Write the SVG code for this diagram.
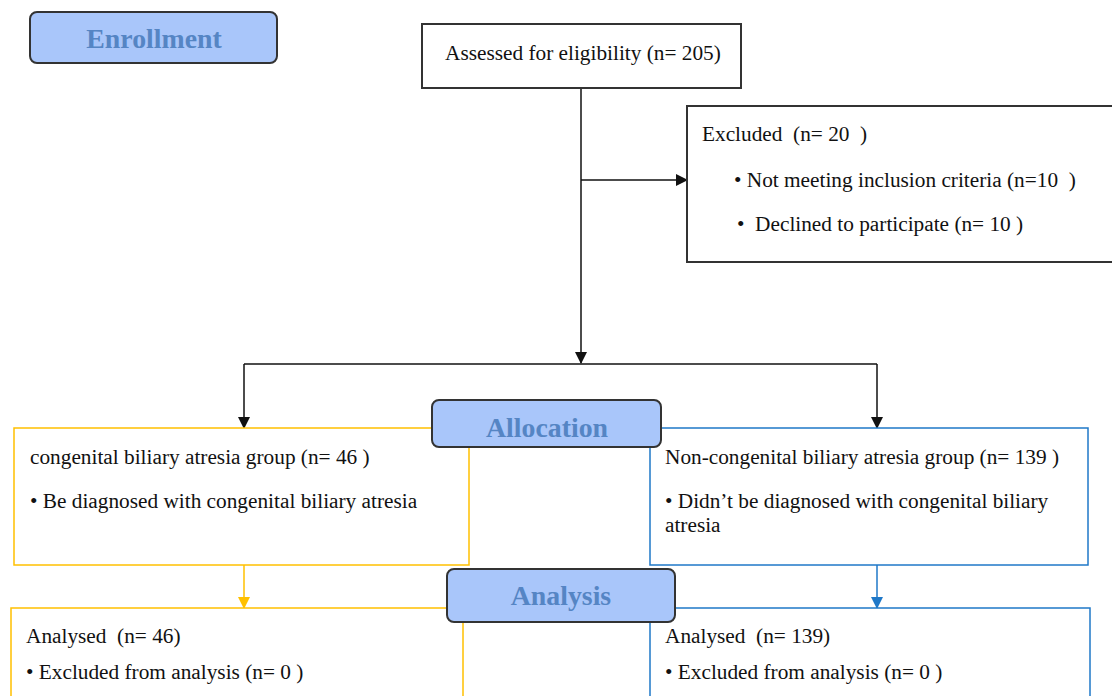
<svg xmlns="http://www.w3.org/2000/svg" width="1112" height="696" viewBox="0 0 1112 696">
<style>
text{font-size:21.3px;fill:#111}
.hdr{font-weight:bold;font-size:27.8px;fill:#5585c4;text-anchor:middle}
.stage{fill:#a9c6fa;stroke:#333;stroke-width:2}
.blk{fill:#fff;stroke:#333;stroke-width:2}
.yel{fill:#fff;stroke:#ffc000;stroke-width:1.5}
.blu{fill:#fff;stroke:#1f78c8;stroke-width:1.5}
.ln{fill:none;stroke:#111;stroke-width:1.5}
</style>
<defs>
<marker id="ab" markerWidth="12" markerHeight="12" refX="11" refY="6" orient="auto" markerUnits="userSpaceOnUse"><path d="M0,0 L12,6 L0,12 Z" fill="#111"/></marker>
<marker id="ay" markerWidth="12" markerHeight="12" refX="11" refY="6" orient="auto" markerUnits="userSpaceOnUse"><path d="M0,0 L12,6 L0,12 Z" fill="#ffc000"/></marker>
<marker id="au" markerWidth="12" markerHeight="12" refX="11" refY="6" orient="auto" markerUnits="userSpaceOnUse"><path d="M0,0 L12,6 L0,12 Z" fill="#1f78c8"/></marker>
</defs>
<rect width="1112" height="696" fill="#fff"/>
<g font-family="Liberation Serif, Times New Roman, serif">
<g id="connectors">
<path class="ln" d="M581,88 V363" marker-end="url(#ab)"/>
<path class="ln" d="M581,180 H687" marker-end="url(#ab)"/>
<path class="ln" d="M244,364 H877"/>
<path class="ln" d="M244,364 V428" marker-end="url(#ab)"/>
<path class="ln" d="M877,364 V428" marker-end="url(#ab)"/>
<path fill="none" stroke="#ffc000" stroke-width="1.5" d="M244,565 V608" marker-end="url(#ay)"/>
<path fill="none" stroke="#1f78c8" stroke-width="1.5" d="M877,565 V608" marker-end="url(#au)"/>
</g>
<g id="enrollment">
<rect class="stage" x="30" y="12" width="247" height="51" rx="7"/>
<text class="hdr" x="154" y="48">Enrollment</text>
</g>
<g id="assessed">
<rect class="blk" x="422" y="24" width="319" height="64"/>
<text x="445" y="60">Assessed for eligibility (n= 205)</text>
</g>
<g id="excluded">
<rect class="blk" x="687" y="106" width="430" height="156"/>
<text x="702" y="141" xml:space="preserve">Excluded  (n= 20  )</text>
<text x="734" y="187" xml:space="preserve">• Not meeting inclusion criteria (n=10  )</text>
<text x="737" y="231" xml:space="preserve">•  Declined to participate (n= 10 )</text>
</g>
<g id="cba-group">
<rect class="yel" x="14" y="428" width="455" height="137"/>
<text x="30" y="464">congenital biliary atresia group (n= 46 )</text>
<text x="30" y="508">• Be diagnosed with congenital biliary atresia</text>
</g>
<g id="non-cba-group">
<rect class="blu" x="650" y="428" width="438" height="137"/>
<text x="665" y="464">Non-congenital biliary atresia group (n= 139 )</text>
<text x="665" y="508">• Didn’t be diagnosed with congenital biliary</text>
<text x="665" y="532">atresia</text>
</g>
<g id="allocation">
<rect class="stage" x="432" y="400" width="229" height="47" rx="7"/>
<text class="hdr" x="547" y="437">Allocation</text>
</g>
<g id="cba-analysed">
<rect class="yel" x="11" y="608" width="452" height="110"/>
<text x="26" y="643" xml:space="preserve">Analysed  (n= 46)</text>
<text x="26" y="679">• Excluded from analysis (n= 0 )</text>
</g>
<g id="non-cba-analysed">
<rect class="blu" x="650" y="608" width="440" height="110"/>
<text x="665" y="643" xml:space="preserve">Analysed  (n= 139)</text>
<text x="665" y="679">• Excluded from analysis (n= 0 )</text>
</g>
<g id="analysis">
<rect class="stage" x="447" y="569" width="228" height="53" rx="7"/>
<text class="hdr" x="561" y="605">Analysis</text>
</g>
</g>
</svg>
